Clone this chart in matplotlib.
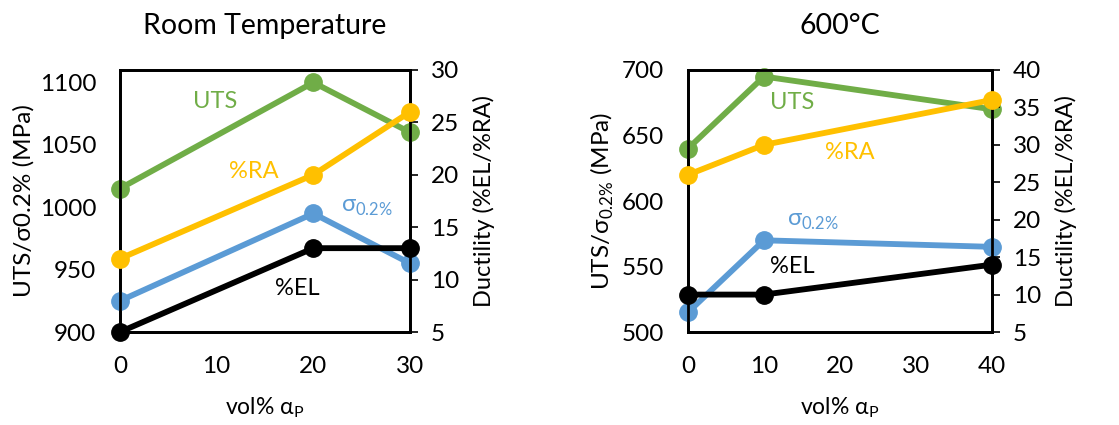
import matplotlib
matplotlib.use('Agg')
import matplotlib.pyplot as plt

plt.rcParams['font.family'] = ['Lato', 'DejaVu Sans']
plt.rcParams['mathtext.fontset'] = 'custom'
plt.rcParams['mathtext.rm'] = 'Lato'

green = '#70AD47'
yellow = '#FFC000'
blue = '#5B9BD5'
black = '#000000'

# room temperature
rt_x = [0, 20, 30]
rt_uts = [1015, 1100, 1060]
rt_ys = [925, 995, 955]
rt_ra = [12, 20, 26]
rt_el = [5, 13, 13]

# 600 C
ht_x = [0, 10, 40]
ht_uts = [640, 695, 670]
ht_ys = [515, 570, 565]
ht_ra = [26, 30, 36]
ht_el = [10, 10, 14]

fig = plt.figure(figsize=(11.19, 4.25), dpi=100)
ax_a = fig.add_axes([0.1072, 0.2188, 0.2592, 0.6165])
ax_b = fig.add_axes([0.6148, 0.2188, 0.2717, 0.6165])

line_kw = dict(lw=4.2, marker='o', ms=12.5, clip_on=False)


def panel(ax, x, uts, ys, ra, el, xlim, xticks, ylim, yticks, dlim, dticks,
          title, ylabel, labels):
    ax.plot(x, uts, color=green, zorder=3, **line_kw)
    ax.plot(x, ys, color=blue, zorder=3, **line_kw)
    ax.set_xlim(*xlim)
    ax.set_ylim(*ylim)
    ax.set_xticks(xticks)
    ax.set_yticks(yticks)
    ax.tick_params(axis='both', length=0, labelsize=17.5, pad=17)
    ax.set_title(title, fontsize=20.5, pad=26)
    ax.set_xlabel(r'vol% α$_{\mathregular{P}}$', fontsize=16.5, labelpad=13)
    ax.set_ylabel(ylabel, fontsize=17.5, labelpad=4)

    ax2 = ax.twinx()
    ax2.plot(x, ra, color=yellow, zorder=3, **line_kw)
    ax2.plot(x, el, color=black, zorder=3, **line_kw)
    ax2.set_ylim(*dlim)
    ax2.set_yticks(dticks)
    ax2.tick_params(axis='y', length=6, width=1.2, labelsize=17.5, pad=9)
    ax2.set_ylabel('Ductility (%EL/%RA)', fontsize=17, labelpad=10)

    for a in (ax, ax2):
        for s in a.spines.values():
            s.set_linewidth(2)

    for txt, tx, ty, col in labels:
        ax2.text(tx, ty, txt, color=col, fontsize=17, ha='center', va='center',
                 transform=ax.transData, zorder=5)


panel(ax_a, rt_x, rt_uts, rt_ys, rt_ra, rt_el,
      (0, 30), [0, 10, 20, 30], (900, 1110), [900, 950, 1000, 1050, 1100],
      (5, 30), [5, 10, 15, 20, 25, 30],
      'Room Temperature', 'UTS/σ0.2% (MPa)',
      [('UTS', 9.8, 1085, green),
       ('%RA', 13.8, 1029, yellow),
       (r'σ$_{\mathregular{0.2\%}}$', 25.5, 1000, blue),
       ('%EL', 18.3, 935, black)])

panel(ax_b, ht_x, ht_uts, ht_ys, ht_ra, ht_el,
      (0, 40), [0, 10, 20, 30, 40], (500, 700), [500, 550, 600, 650, 700],
      (5, 40), [5, 10, 15, 20, 25, 30, 35, 40],
      '600°C', r'UTS/σ$_{\mathregular{0.2\%}}$ (MPa)',
      [('UTS', 13.7, 675, green),
       ('%RA', 21.3, 637, yellow),
       (r'σ$_{\mathregular{0.2\%}}$', 16.5, 584, blue),
       ('%EL', 13.7, 550, black)])

fig.savefig('out.png', dpi=100)
